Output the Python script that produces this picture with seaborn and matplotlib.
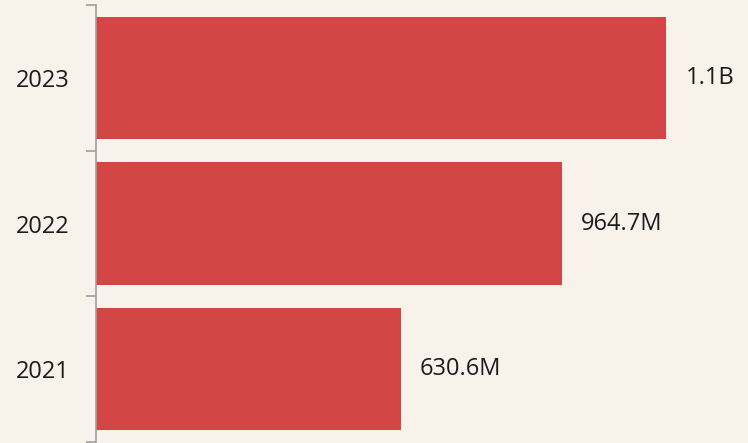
import matplotlib
matplotlib.use("Agg")
import matplotlib.pyplot as plt
import seaborn as sns
import pandas as pd

years = ["2023", "2022", "2021"]
values = [1.18e9, 964.7e6, 630.6e6]
labels = ["1.1B", "964.7M", "630.6M"]

sns.set_theme(style="white")
plt.rcParams['font.family'] = ['Open Sans', 'DejaVu Sans']

bg = "#f8f2ea"
bar_color = "#d24646"

df = pd.DataFrame({"year": years, "value": values})

fig = plt.figure(figsize=(7.48, 4.43), dpi=100, facecolor=bg)
ax = fig.add_axes([96/748, 1/443, 1 - 96/748, 437/443])
ax.set_facecolor(bg)

sns.barplot(data=df, y="year", x="value", order=years, orient="h",
            color=bar_color, saturation=1, width=0.84, linewidth=0, ax=ax)

ax.set_xlim(0, 1.35e9)
ax.set_ylim(2.5, -0.5)

ax.bar_label(ax.containers[0], labels=labels, padding=14, fontsize=17, color="#1c1c1c")

for s in ["top", "right", "bottom"]:
    ax.spines[s].set_visible(False)
ax.spines["left"].set_color("#a0a0a0")
ax.spines["left"].set_linewidth(1.2)

ax.set_xticks([])
ax.set_xlabel("")
ax.set_ylabel("")
ax.set_yticks([0, 1, 2])
ax.set_yticklabels(years, fontsize=17, color="#1c1c1c")
ax.tick_params(axis="y", which="major", length=0, pad=19)
ax.set_yticks([-0.5, 0.5, 1.5, 2.5], minor=True)
ax.tick_params(axis="y", which="minor", length=7, width=1.2, color="#a0a0a0", left=True)

fig.savefig("out.png", dpi=100, facecolor=bg)
